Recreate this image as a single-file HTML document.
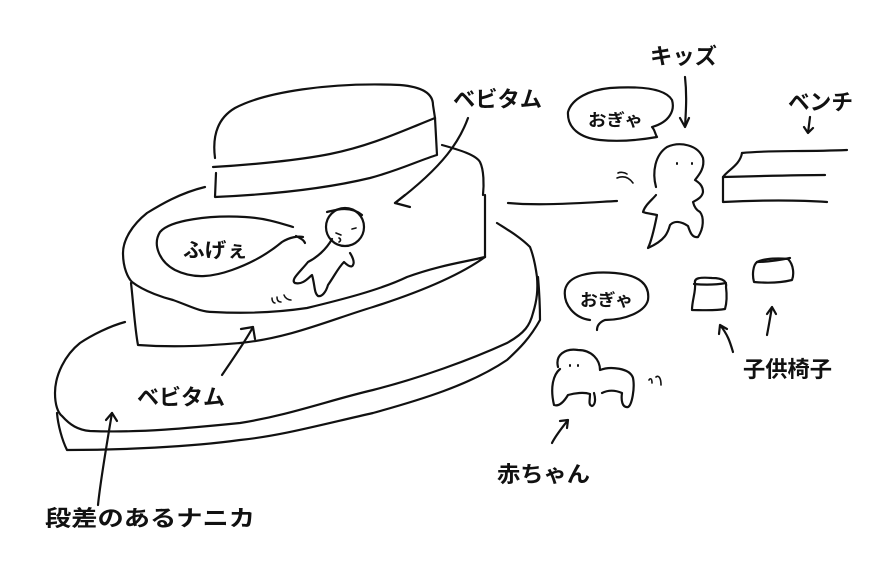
<!DOCTYPE html>
<html><head><meta charset="utf-8"><style>
html,body{margin:0;padding:0;background:#fff;}
svg{display:block;}
text{font-family:"Liberation Sans","Noto Sans CJK JP",sans-serif;font-weight:bold;fill:#111;}
</style></head><body>
<svg width="890" height="565" viewBox="0 0 890 565" xmlns="http://www.w3.org/2000/svg">
<g fill="none" stroke="#111" stroke-width="2.2" stroke-linecap="round" stroke-linejoin="round">
<path d="M215,158 C212,135 218,118 235,108 C265,92 330,82 400,85 C425,87 433,95 433,105 L435,118"/>
<path d="M213,167 C250,165 300,160 330,154 C370,146 400,132 435,118"/>
<path d="M216,173 L215,197 C260,195 320,190 370,178 C400,170 420,160 437,155 L435,118"/>
<path d="M205,187 C180,193 160,205 147,213 C132,225 123,240 123,253 C123,268 128,278 132,282 C145,292 165,298 173,300 C190,306 200,312 213,312 C250,314 280,312 307,308 C340,300 380,290 407,277 C440,265 465,262 485,257"/>
<path d="M442,145 C460,150 476,155 480,162 C484,170 484,185 483,195"/>
<path d="M485,195 L485,257"/>
<path d="M131,283 C133,300 135,330 138,345 C180,348 215,345 240,343 C290,338 330,320 373,307 C420,292 460,275 485,257"/>
<path d="M125,322 C110,326 92,335 80,343 C65,355 55,375 55,393 C55,405 58,413 62,416 C70,425 78,430 90,431 C140,433 190,428 240,423 C290,415 330,400 373,390 C420,378 470,360 507,343 C525,333 530,325 533,313 C537,300 538,290 537,277 C535,262 532,252 530,247 C520,237 508,230 497,223"/>
<path d="M538,277 C540,300 540,315 540,320 C530,338 520,348 507,360 C470,385 420,400 373,413 C320,425 280,436 240,440 C190,447 120,450 67,450 C62,440 58,425 57,413"/>
<path d="M293,227 C280,223 265,218 245,217 C210,215 170,220 160,232 C152,245 160,262 175,270 C195,280 215,276 232,270 C255,262 270,252 282,242 C290,237 298,236 303,237"/>
<circle cx="345" cy="227" r="19"/>
<path d="M327,212 C335,210 350,205 362,215"/>
<path d="M332,239 C326,250 316,258 308,262 C300,272 290,280 295,283 C303,285 308,278 312,275 C315,285 314,293 318,296 C322,297 326,292 328,285 C335,275 338,268 344,262 C348,266 352,268 353,265 C355,262 352,256 350,253"/>
<path d="M296,236 C300,238 304,240 305,243"/>
<path d="M272,298 C272,302 274,303 275,303 M277,297 C277,301 279,302 281,302 M284,295 C285,298 288,300 291,300" stroke-width="1.5"/>
<path d="M336,233 l5,2 M352,229 l4,-1 M339,238 c2,1 2,3 0,4" stroke-width="1.6"/>
<path d="M468,118 C460,140 445,165 395,203"/>
<path d="M395,203 l10,-8 M395,203 l15,4"/>
<path d="M222,375 C232,360 245,342 253,327"/>
<path d="M253,327 l-12,2 M253,327 l2,12"/>
<path d="M98,505 C100,485 104,460 112,413"/>
<path d="M112,413 l-6,7 M112,413 l5,8"/>
<path d="M508,203 C540,206 580,203 617,201"/>
<path d="M656,187 C652,172 655,155 667,147 C680,141 698,145 703,158 C705,168 699,175 695,180 C698,182 703,185 703,192 C702,198 696,200 693,202 C694,206 696,210 700,212 C704,217 704,228 698,237 C692,238 690,232 688,226 C682,222 675,220 670,225 C668,232 666,240 648,248 C652,240 655,225 657,215 C652,214 645,213 643,212 C645,205 652,200 656,195"/>
<path d="M677,163 l0,1 M692,163 l0,1" stroke-width="2"/>
<path d="M617,178 C622,176 628,176 633,183 M618,173 C620,172 624,172 627,174" stroke-width="1.6"/>
<path d="M657,137 C640,140 620,142 600,140 C580,138 567,128 568,112 C572,98 590,90 610,88 C640,86 665,88 672,100 C675,110 670,122 652,127 C655,130 655,134 657,137"/>
<path d="M685,77 C687,95 686,110 685,127 M685,127 l-5,-9 M685,127 l4,-9"/>
<path d="M742,153 C770,150 800,152 847,150"/>
<path d="M742,153 C740,165 728,170 723,177 C760,176 800,175 825,175"/>
<path d="M723,177 L723,202 C760,200 800,200 827,202"/>
<path d="M810,117 L808,133 M808,133 l-4,-6 M808,133 l5,-5"/>
<path d="M692,310 C692,300 696,292 695,283 C694,278 700,277 712,278 C724,278 727,282 726,287 C727,295 727,302 725,309 C715,311 700,310 692,310 Z"/>
<path d="M694,284 C705,285 715,285 726,283"/>
<path d="M754,282 C752,275 753,265 757,262 C765,258 780,258 788,259 C794,265 794,275 792,280 C780,283 765,283 754,282 Z"/>
<path d="M757,262 C768,262 780,260 790,258"/>
<path d="M733,352 C730,342 728,335 720,325 M720,325 l-1,9 M720,325 l7,4"/>
<path d="M767,335 C769,325 770,318 772,307 M772,307 l-5,7 M772,307 l4,7"/>
<path d="M597,330 C597,325 600,322 605,320 C625,320 645,312 648,300 C650,285 640,275 615,273 C590,271 568,275 565,290 C563,305 575,318 590,320"/>
<path d="M558,367 C555,355 565,348 578,350 C592,350 600,360 600,370 C610,366 630,368 633,378 C635,388 632,405 628,407 C622,408 621,400 622,393 C615,390 608,390 602,393"/>
<path d="M560,369 C553,375 550,388 554,405 C560,407 565,400 568,395 C575,393 584,392 590,394 C590,400 588,405 592,406 C595,405 596,400 594,393"/>
<path d="M570,365 l0,1 M578,365 l0,1" stroke-width="2"/>
<path d="M649,380 C650,378 652,378 652,383 M656,377 C658,375 661,377 661,385" stroke-width="1.6"/>
<path d="M552,443 C556,435 562,428 568,420 M568,420 l-8,1 M568,420 l-1,8"/>
</g>
<text x="453" y="107" font-size="22" textLength="89" lengthAdjust="spacingAndGlyphs">ベビタム</text>
<text x="183" y="257" font-size="20" textLength="65" lengthAdjust="spacingAndGlyphs">ふげぇ</text>
<text x="137" y="405" font-size="22" textLength="88" lengthAdjust="spacingAndGlyphs">ベビタム</text>
<text x="45" y="526" font-size="22" textLength="210" lengthAdjust="spacingAndGlyphs">段差のあるナニカ</text>
<text x="650" y="64" font-size="22" textLength="67" lengthAdjust="spacingAndGlyphs">キッズ</text>
<text x="588" y="126" font-size="17" textLength="55" lengthAdjust="spacingAndGlyphs">おぎゃ</text>
<text x="788" y="110" font-size="22" textLength="65" lengthAdjust="spacingAndGlyphs">ベンチ</text>
<text x="580" y="306" font-size="17" textLength="53" lengthAdjust="spacingAndGlyphs">おぎゃ</text>
<text x="743" y="377" font-size="22" textLength="89" lengthAdjust="spacingAndGlyphs">子供椅子</text>
<text x="497" y="482" font-size="22" textLength="93" lengthAdjust="spacingAndGlyphs">赤ちゃん</text>
</svg>
</body></html>
